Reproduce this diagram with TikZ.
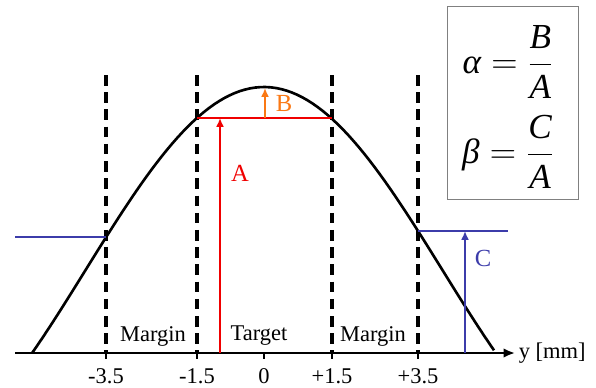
\documentclass[tikz,border=0pt]{standalone}
\usepackage{amsmath}
\usepackage{fontspec}
\setmainfont{Liberation Serif}
\usetikzlibrary{arrows.meta}

\definecolor{tgtred}{RGB}{240,0,0}
\definecolor{peakorange}{RGB}{250,120,20}
\definecolor{tailblue}{RGB}{60,60,170}

\begin{document}
\begin{tikzpicture}[
      x=0.02cm, y=-0.02cm,
      every node/.style={font=\fontsize{12.8}{15}\selectfont},
      profile/.style={line width=1.5pt},
      guide/.style={line width=1.8pt, dash pattern=on 6pt off 3.8pt},
      axis/.style={line width=1.5pt, -{Latex[length=6.5pt,width=5.5pt]}},
      level/.style={line width=1.5pt},
      marker/.style={line width=1.4pt, -{Latex[length=5pt,width=4.5pt]}},
      ratiobox/.style={draw=gray, line width=0.8pt, minimum width=2.62cm, minimum height=3.86cm},
      ratio/.style={font=\fontsize{20}{24}\selectfont},
    ]
    \useasboundingbox (0,0) rectangle (596,387);

    % Axis and ticks
    \coordinate (ax0) at (15,353);
    \coordinate (ax1) at (515,353);
    \draw[axis] (ax0) -- (ax1);
    \node[right, inner sep=2pt] (ylab) at (ax1) {y [mm]};
    \foreach \x/\lab/\nm in {106/-3.5/m3, 197/-1.5/m1, 264/0/z, 332/+1.5/p1, 418/+3.5/p3} {
      \draw[line width=1.5pt] (\x,353) -- (\x,359);
      \node (t\nm) at (\x,376) {\lab};
    }

    % Zone borders
    \foreach \x in {106,197,332,418}
      \draw[guide] (\x,75) -- (\x,353);
    \node (mleft) at (153,336) {Margin};
    \node (target) at (259,336) {Target};
    \node (mright) at (373,336) {Margin};

    % Profile
    \draw[profile] plot[domain=-232:230, samples=90]
      ({264+\x}, {87+183*(1-cos(0.0088*\x r))});

    % A and B
    \coordinate (lvlL) at (197,118);
    \coordinate (lvlR) at (332,118);
    \coordinate (aBot) at (220,353);
    \coordinate (aTop) at (220,118);
    \coordinate (bBot) at (265,118);
    \coordinate (bTop) at (265,88);
    \draw[level, tgtred] (lvlL) -- (lvlR);
    \draw[marker, tgtred] (aBot) -- (aTop);
    \node[text=tgtred, font=\fontsize{14}{16}\selectfont] (alab) at (240,173) {A};
    \draw[marker, peakorange] (bBot) -- (bTop);
    \node[text=peakorange, font=\fontsize{14}{16}\selectfont] (blab) at (284,103) {B};

    % C
    \coordinate (cL0) at (15,237);
    \coordinate (cL1) at (106,237);
    \coordinate (cR0) at (418,231);
    \coordinate (cR1) at (508,231);
    \coordinate (cBot) at (465,353);
    \coordinate (cTop) at (465,231);
    \draw[level, tailblue, line width=1.3pt] (cL0) -- (cL1);
    \draw[level, tailblue, line width=1.3pt] (cR0) -- (cR1);
    \draw[marker, tailblue] (cBot) -- (cTop);
    \node[text=tailblue, font=\fontsize{14}{16}\selectfont] (clab) at (483,258) {C};

    % Ratios
    \node[ratiobox] (box) at (513,103) {};
    \node[ratio] (alpha) at (508,62) {$\displaystyle\textit{α}=\frac{\textit{B}}{\textit{A}}$};
    \node[ratio] (beta) at (508,152) {$\displaystyle\textit{β}=\frac{\textit{C}}{\textit{A}}$};
  \end{tikzpicture}
\end{document}
